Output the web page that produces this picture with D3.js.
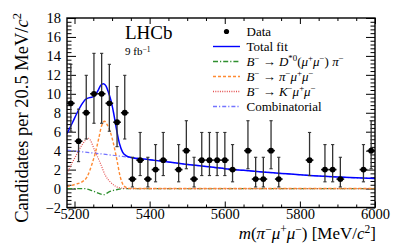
<!DOCTYPE html>
<html><head><meta charset="utf-8">
<script src="https://cdn.jsdelivr.net/npm/d3@7"></script>
<style>
html,body{margin:0;padding:0;background:#fff;}
svg{display:block;font-family:"Liberation Serif","Times New Roman",serif;}
</style></head>
<body><svg id="c" width="395" height="247"></svg>
<script>
// ---------------- data ----------------
const binMass = [5190.25,5210.75,5231.25,5251.75,5272.25,5292.75,5313.25,5333.75,5354.25,5374.75,5395.25,5415.75,5436.25,
  5477.25,5497.75,5518.25,5538.75,5559.25,5579.75,5600.25,5620.75,5661.75,5682.25,5702.75,5723.25,5743.75,
  5825.75,5866.75,5887.25,5907.75,5969.25,5989.75];
const counts  = [9,5,8,10,10,9,7,8,1,3,1,2,3, 2,4,1,3,3,3,3,2,4,1,1,4,1, 3,2,2,1,2,4];
const errLow  = [6.05,2.84,5.23,6.89,6.89,6.05,4.42,5.23,0.17,1.37,0.17,0.71,1.37, 0.71,2.09,0.17,1.37,1.37,1.37,1.37,0.71,2.09,0.17,0.17,2.09,0.17, 1.37,0.71,0.71,0.17,0.71,2.09];
const errHigh = [13.11,8.38,11.95,14.27,14.27,13.11,10.77,11.95,3.30,5.92,3.30,4.64,5.92, 4.64,7.16,3.30,5.92,5.92,5.92,5.92,4.64,7.16,3.30,3.30,7.16,3.30, 5.92,4.64,4.64,3.30,4.64,7.16];
const binHalfWidth = 10.25;

const totalMass = [5180,5195,5207,5218,5229,5240,5252,5262,5270,5277,5284,5290,5297,5304,5312,5320,5328,5338,5350,5400,5450,5500,5550,5600,5650,5700,5750,5800,5850,5900,5950,6000];
const totalVal  = [5.8,7.0,8.0,8.8,9.4,9.6,9.7,10.3,10.9,11.05,10.8,10.2,9.3,8.0,6.2,4.7,3.85,3.45,3.28,3.05,2.8,2.55,2.33,2.1,1.92,1.75,1.6,1.45,1.33,1.22,1.13,1.06];

const combMass = [5180,5250,5300,5350,5400,5450,5500,5550,5600,5650,5700,5750,5800,5850,5900,5950,6000];
const combVal  = [4.05,3.75,3.52,3.28,3.05,2.8,2.55,2.33,2.1,1.92,1.75,1.6,1.45,1.33,1.22,1.13,1.06];

const pimmMass = [5180,5202,5220,5233,5247,5255,5264,5272,5280,5286,5295,5304,5313,5322,5331,5340,5350,5400,6000];
const pimmVal  = [0.2,0.45,0.7,1.2,2.65,3.7,5.2,6.6,7.1,6.8,6.0,4.7,3.0,1.2,0.3,0.08,0.02,0,0];

const kmmMass = [5180,5193,5207,5220,5237,5255,5269,5282,5295,5309,5326,5348,5400,6000];
const kmmVal  = [1.6,2.65,3.7,4.6,5.3,3.9,2.65,1.4,0.7,0.25,0.05,0,0,0];

const dstMass = [5180,5225,5255,5278,5292,5314,5335,6000];
const dstVal  = [0,0,-0.35,-0.65,-0.35,-0.1,0,0];

const xTicks = [5200,5400,5600,5800,6000];
const yTicks = [-2,0,2,4,6,8,10,12,14,16,18];

// ---------------- layout ----------------
const svg = d3.select('#c');
const L=67, R=375, T=18, B=207.5;
const x = d3.scaleLinear().domain([5180,6000]).range([L,R]);
const y = d3.scaleLinear().domain([-2,18]).range([B,T]);

const cols = {total:'#0000ff', dst:'#2f8f2f', pimm:'#ff8a33', kmm:'#e45050', comb:'#7373ff'};

// axes
const fmt = d3.format('d');
const xMinor = d3.range(5200,6001,50).filter(v=>v%200!==0);
const yMinor = d3.range(-2,18.001,0.4).map(v=>+v.toFixed(1)).filter(v=>Math.abs(v/2-Math.round(v/2))>1e-6);

function styleAxis(g){ g.select('.domain').remove(); g.selectAll('line').attr('stroke','#000').attr('stroke-width',1); g.selectAll('text').attr('font-size',14.5).attr('fill','#000').attr('font-family','"Liberation Serif",serif'); }

svg.append('g').attr('transform',`translate(0,${B})`).call(d3.axisBottom(x).tickValues(xTicks).tickSizeInner(-6).tickSizeOuter(0).tickPadding(1).tickFormat(fmt)).call(styleAxis);
svg.append('g').attr('transform',`translate(0,${B})`).call(d3.axisBottom(x).tickValues(xMinor).tickSizeInner(-3).tickSizeOuter(0).tickFormat('')).call(styleAxis);
svg.append('g').attr('transform',`translate(0,${T})`).call(d3.axisTop(x).tickValues(xTicks).tickSizeInner(-6).tickSizeOuter(0).tickFormat('')).call(styleAxis);
svg.append('g').attr('transform',`translate(0,${T})`).call(d3.axisTop(x).tickValues(xMinor).tickSizeInner(-3).tickSizeOuter(0).tickFormat('')).call(styleAxis);
svg.append('g').attr('transform',`translate(${L},0)`).call(d3.axisLeft(y).tickValues(yTicks).tickSizeInner(-9).tickSizeOuter(0).tickPadding(6).tickFormat(fmt)).call(styleAxis);
svg.append('g').attr('transform',`translate(${L},0)`).call(d3.axisLeft(y).tickValues(yMinor).tickSizeInner(-4.5).tickSizeOuter(0).tickFormat('')).call(styleAxis);
svg.append('g').attr('transform',`translate(${R},0)`).call(d3.axisRight(y).tickValues(yTicks).tickSizeInner(-9).tickSizeOuter(0).tickFormat('')).call(styleAxis);
svg.append('g').attr('transform',`translate(${R},0)`).call(d3.axisRight(y).tickValues(yMinor).tickSizeInner(-4.5).tickSizeOuter(0).tickFormat('')).call(styleAxis);

// clip
svg.append('clipPath').attr('id','clip').append('rect').attr('x',L).attr('y',T).attr('width',R-L).attr('height',B-T);
const plot = svg.append('g').attr('clip-path','url(#clip)');

function curve(ms, vs, color, dash, w){
  const pts = ms.map((m,i)=>[m,vs[i]]);
  plot.append('path').datum(pts)
    .attr('d', d3.line().x(d=>x(d[0])).y(d=>y(d[1])).curve(d3.curveMonotoneX))
    .attr('fill','none').attr('stroke',color).attr('stroke-width',w||1.3)
    .attr('stroke-dasharray',dash||null);
}
const dashes = {dst:'5,2,1.2,2', pimm:'3,2', kmm:'1,1.3', comb:'4,2,1.2,2'};
curve(combMass, combVal, cols.comb, dashes.comb, 1.2);
curve(dstMass, dstVal, cols.dst, dashes.dst, 1.3);
curve(kmmMass, kmmVal, cols.kmm, dashes.kmm, 1.2);
curve(pimmMass, pimmVal, cols.pimm, dashes.pimm, 1.4);
curve(totalMass, totalVal, cols.total, null, 1.5);

// data points
const pts = binMass.map((m,i)=>({m, c:counts[i], lo:errLow[i], hi:errHigh[i]}));
const dg = svg.append('g');
pts.forEach(p=>{
  const cx = x(p.m), cy = y(p.c);
  dg.append('line').attr('x1',cx).attr('x2',cx).attr('y1',y(p.lo)).attr('y2',y(p.hi)).attr('stroke','#333').attr('stroke-width',1.3);
  dg.append('line').attr('x1',cx-1.6).attr('x2',cx+1.6).attr('y1',y(p.hi)).attr('y2',y(p.hi)).attr('stroke','#333').attr('stroke-width',1.1);
  dg.append('line').attr('x1',cx-1.6).attr('x2',cx+1.6).attr('y1',y(p.lo)).attr('y2',y(p.lo)).attr('stroke','#333').attr('stroke-width',1.1);
  dg.append('line').attr('x1',x(p.m-binHalfWidth)).attr('x2',x(p.m+binHalfWidth)).attr('y1',cy).attr('y2',cy).attr('stroke','#111').attr('stroke-width',1.6);
  dg.append('circle').attr('cx',cx).attr('cy',cy).attr('r',2.9).attr('fill','#000');
});

// frame
svg.append('rect').attr('x',L).attr('y',T).attr('width',R-L).attr('height',B-T).attr('fill','none').attr('stroke','#000').attr('stroke-width',1.4);

// rich text helper
function rich(sel, segs, size, raise){
  const r = raise || 0.38;
  let shifted=false;
  segs.forEach(s=>{
    const [t,st] = typeof s==='string' ? [s,''] : s;
    const ts = sel.append('tspan').text(t);
    const isSup = st.includes('s');
    if(st.includes('i')) ts.attr('font-style','italic');
    if(isSup){ ts.attr('font-size',size*0.68); if(!shifted){ts.attr('dy',-size*r); shifted=true;} }
    else if(shifted){ ts.attr('dy',size*r); shifted=false; }
  });
}

// titles
const xt = svg.append('text').attr('x',376).attr('y',239).attr('text-anchor','end').attr('font-size',17);
rich(xt, [['m','i'],'(',['π','i'],['−','s'],['μ','i'],['+','s'],['μ','i'],['−','s'],') [MeV/',['c','i'],['2','s'],']'], 17);
const yt = svg.append('text').attr('transform','translate(28,13) rotate(-90)').attr('text-anchor','end').attr('font-size',18.5);
rich(yt, ['Candidates per 20.5 MeV/',['c','i'],['2','s']], 18.5);

svg.append('text').attr('x',125).attr('y',38.5).attr('font-size',19).text('LHCb');
const lum = svg.append('text').attr('x',125).attr('y',55).attr('font-size',11);
rich(lum, ['9 fb',['−1','s']], 11, 0.3);

// legend
const lg = svg.append('g');
const legendRows = [
  {type:'data', segs:['Data']},
  {type:'line', c:cols.total, d:null, segs:['Total fit']},
  {type:'line', c:cols.dst, d:dashes.dst, segs:[['B','i'],['−','s'],' → ',['D','i'],['*0','s'],'(',['μ','i'],['+','s'],['μ','i'],['−','s'],') ',['π','i'],['−','s']]},
  {type:'line', c:cols.pimm, d:dashes.pimm, segs:[['B','i'],['−','s'],' → ',['π','i'],['−','s'],['μ','i'],['+','s'],['μ','i'],['−','s']]},
  {type:'line', c:cols.kmm, d:dashes.kmm, segs:[['B','i'],['−','s'],' → ',['K','i'],['−','s'],['μ','i'],['+','s'],['μ','i'],['−','s']]},
  {type:'line', c:cols.comb, d:dashes.comb, segs:['Combinatorial']},
];
legendRows.forEach((r,i)=>{
  const cy = 31.5 + i*15;
  if(r.type==='data') lg.append('circle').attr('cx',226.5).attr('cy',cy).attr('r',2.6).attr('fill','#000');
  else lg.append('line').attr('x1',213).attr('x2',240).attr('y1',cy).attr('y2',cy).attr('stroke',r.c).attr('stroke-width',1.4).attr('stroke-dasharray',r.d);
  const t = lg.append('text').attr('x',246.5).attr('y',cy+4.5).attr('font-size',13);
  rich(t, r.segs, 13);
});
</script></body></html>
